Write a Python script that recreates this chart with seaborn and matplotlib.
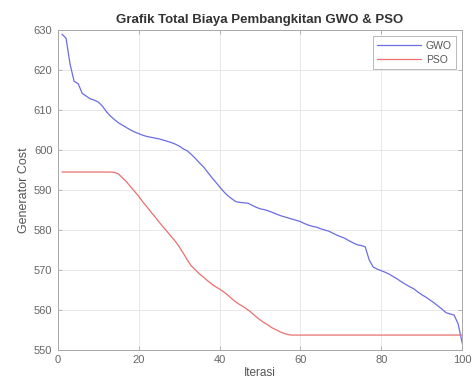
import numpy as np
import pandas as pd
import matplotlib
matplotlib.use("Agg")
import matplotlib.pyplot as plt
import seaborn as sns

iterations = list(range(1, 101))

gwo_cost = [
    629.0, 628.0, 621.5, 617.2, 616.6, 614.2, 613.5, 612.8, 612.5, 612.0,
    611.0, 609.6, 608.5, 607.6, 606.8, 606.2, 605.6, 605.0, 604.5, 604.1,
    603.7, 603.4, 603.2, 603.0, 602.8, 602.5, 602.2, 601.9, 601.5, 601.0,
    600.3, 599.8, 598.9, 597.9, 596.8, 595.8, 594.5, 593.2, 592.0, 590.8,
    589.6, 588.6, 587.8, 587.1, 586.9, 586.8, 586.7, 586.2, 585.7, 585.3,
    585.1, 584.8, 584.4, 584.0, 583.6, 583.3, 583.0, 582.7, 582.4, 582.1,
    581.6, 581.2, 580.9, 580.7, 580.3, 580.0, 579.7, 579.2, 578.7, 578.3,
    577.9, 577.3, 576.8, 576.3, 576.1, 575.8, 572.5, 570.7, 570.2, 569.8,
    569.4, 568.9, 568.3, 567.7, 567.0, 566.4, 565.8, 565.3, 564.5, 563.8,
    563.2, 562.5, 561.8, 561.0, 560.2, 559.3, 559.0, 558.7, 556.5, 551.7,
]

pso_cost = [
    594.5, 594.5, 594.5, 594.5, 594.5, 594.5, 594.5, 594.5, 594.5, 594.5,
    594.5, 594.5, 594.5, 594.4, 594.0, 593.0, 592.0, 590.8, 589.6, 588.4,
    587.0, 585.8, 584.5, 583.3, 582.0, 580.8, 579.6, 578.4, 577.2, 575.8,
    574.2, 572.5, 571.0, 570.0, 569.0, 568.2, 567.3, 566.5, 565.8, 565.2,
    564.5, 563.7, 562.8, 562.0, 561.3, 560.7, 560.0, 559.2, 558.3, 557.5,
    556.8, 556.2, 555.5, 555.0, 554.5, 554.1, 553.8, 553.7, 553.7, 553.7,
    553.7, 553.7, 553.7, 553.7, 553.7, 553.7, 553.7, 553.7, 553.7, 553.7,
    553.7, 553.7, 553.7, 553.7, 553.7, 553.7, 553.7, 553.7, 553.7, 553.7,
    553.7, 553.7, 553.7, 553.7, 553.7, 553.7, 553.7, 553.7, 553.7, 553.7,
    553.7, 553.7, 553.7, 553.7, 553.7, 553.7, 553.7, 553.7, 553.7, 553.7,
]

series_names = ["GWO", "PSO"]
x_ticks = [0, 20, 40, 60, 80, 100]
y_ticks = [550, 560, 570, 580, 590, 600, 610, 620, 630]

df = pd.DataFrame({
    "Iterasi": iterations * 2,
    "Cost": gwo_cost + pso_cost,
    "Metode": [series_names[0]] * len(iterations) + [series_names[1]] * len(iterations),
})

sns.set_style("white")
plt.rcParams["font.family"] = ["Liberation Sans", "DejaVu Sans"]

fig = plt.figure(figsize=(4.75, 3.87), dpi=100)
ax = fig.add_axes([0.122, 0.096, 0.851, 0.826])

sns.lineplot(data=df, x="Iterasi", y="Cost", hue="Metode",
             palette={"GWO": "#6c6ce4", "PSO": "#ea7070"},
             linewidth=0.9, ax=ax, legend=True)

ax.set_xlim(0, 100)
ax.set_ylim(550, 630)
ax.set_xticks(x_ticks)
ax.set_yticks(y_ticks)
ax.grid(True, color="#e4e4e4", linewidth=0.6)
for s in ax.spines.values():
    s.set_color("#a8a8a8")
    s.set_linewidth(0.7)
ax.tick_params(direction="in", length=3, width=0.6, color="#a8a8a8",
               labelsize=8, labelcolor="#666666", top=True, right=True,
               bottom=True, left=True, pad=4)
ax.set_xlabel("Iterasi", fontsize=8.5, color="#555555", labelpad=1)
ax.set_ylabel("Generator Cost", fontsize=9, color="#555555", labelpad=3)
ax.set_title("Grafik Total Biaya Pembangkitan GWO & PSO", fontsize=9.5,
             fontweight="bold", color="#333333", pad=5)

leg = ax.legend(loc="upper right", fontsize=7.5, frameon=True, fancybox=False,
                edgecolor="#999999", handlelength=4.2, handletextpad=0.5,
                borderpad=0.4, labelspacing=0.4, borderaxespad=0.6)
leg.get_frame().set_linewidth(0.6)
for t in leg.get_texts():
    t.set_color("#555555")

fig.savefig("out.png", dpi=100)
